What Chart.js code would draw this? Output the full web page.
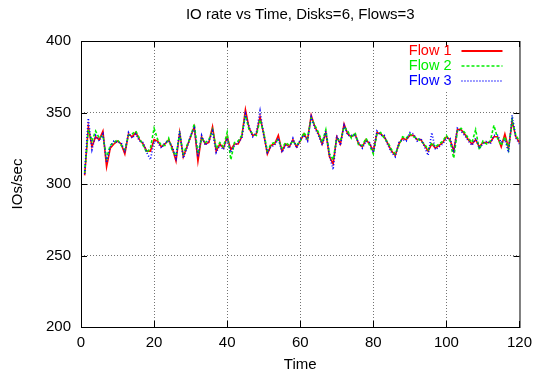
<!DOCTYPE html>
<html>
<head>
<meta charset="utf-8">
<script src="https://cdn.jsdelivr.net/npm/chart.js@4/dist/chart.umd.min.js"></script>
<style>
  html, body { margin: 0; padding: 0; background: #fff; }
  #wrap { width: 539px; height: 374px; }
</style>
</head>
<body>
<div id="wrap"><canvas id="myChart" width="539" height="374"></canvas></div>
<script>
const times = [1,2,3,4,5,6,7,8,9,10,11,12,13,14,15,16,17,18,19,20,
  21,22,23,24,25,26,27,28,29,30,31,32,33,34,35,36,37,38,39,40,
  41,42,43,44,45,46,47,48,49,50,51,52,53,54,55,56,57,58,59,60,
  61,62,63,64,65,66,67,68,69,70,71,72,73,74,75,76,77,78,79,80,
  81,82,83,84,85,86,87,88,89,90,91,92,93,94,95,96,97,98,99,100,
  101,102,103,104,105,106,107,108,109,110,111,112,113,114,115,116,117,118,119,120];

const flow1 = [306,340,326,333,331,337,312,325,328,330,328,321,335,333,336,331,328,323,323,331,
  330,326,328,331,325,316,336,319,326,333,340,316,333,328,329,340,323,328,325,333,
  324,328,328,333,352,339,334,335,347,335,321,327,328,334,323,328,326,331,326,330,
  335,331,348,340,335,328,336,319,314,333,328,342,335,333,335,328,326,331,328,323,
  336,335,333,328,323,320,328,332,331,334,334,331,331,327,323,328,325,327,329,333,
  331,323,338,338,335,331,328,331,326,329,329,329,333,333,326,335,325,344,333,329];

const flow2 = [308,338,330,337,332,334,318,327,329,331,327,324,334,335,337,332,327,322,325,339,
  331,327,327,332,323,320,335,321,327,333,342,321,332,329,331,338,325,329,326,336,
  317,329,330,334,348,338,335,334,345,336,323,328,329,331,325,329,327,330,327,330,
  336,332,346,341,336,329,338,321,317,332,330,340,337,332,336,327,327,332,327,321,
  335,336,332,329,324,321,327,333,332,335,333,332,330,328,324,329,326,328,330,334,
  330,318,337,339,336,332,329,338,324,330,328,330,341,332,327,333,324,345,334,330];

const flow3 = [307,346,324,334,330,335,315,326,330,329,329,322,336,332,335,330,329,322,317,330,
  329,325,329,330,326,318,337,318,325,334,339,319,334,327,330,337,322,327,324,332,
  322,327,329,332,349,340,333,336,351,334,322,326,327,332,322,327,325,332,325,331,
  334,330,347,339,334,327,337,320,310,334,327,341,334,334,334,329,325,330,329,322,
  337,334,334,327,322,319,329,331,330,336,335,330,332,326,320,336,324,326,328,332,
  332,322,339,337,334,330,327,332,325,328,330,328,334,334,329,331,322,348,332,328];

const seriesNames = ['Flow 1', 'Flow 2', 'Flow 3'];
const seriesColors = ['#ff0000', '#00ee00', '#0000ff'];
const seriesDash = [[], [3, 2], [1, 2]];
const xTicks = [0, 20, 40, 60, 80, 100, 120];
const yTicks = [200, 250, 300, 350, 400];
const titleText = 'IO rate vs Time, Disks=6, Flows=3';

function toPoints(vals) {
  return vals.map((v, i) => ({ x: times[i], y: v }));
}

const FONT = "'Liberation Sans', Arial, sans-serif";

// title over the plot area, frame, inner tick marks and the gnuplot-style key
const framePlugin = {
  id: 'frame',
  beforeDatasetsDraw(chart) {
    // the key area hides the grid behind it
    const c = chart.ctx;
    const a = chart.chartArea;
    c.save();
    c.fillStyle = '#fff';
    c.fillRect(a.right - 122, a.top + 1, 110, 48);
    c.restore();
  },
  afterDraw(chart) {
    const c = chart.ctx;
    const a = chart.chartArea;
    const xs = chart.scales.x, ys = chart.scales.y;
    c.save();

    c.fillStyle = '#000';
    c.font = '15px ' + FONT;
    c.textAlign = 'center';
    c.textBaseline = 'middle';
    c.fillText(titleText, (a.left + a.right) / 2, 15);

    c.strokeStyle = '#000';
    c.lineWidth = 1;
    c.setLineDash([]);
    c.strokeRect(a.left + 0.5, a.top + 0.5, a.right - a.left, a.bottom - a.top);
    c.beginPath();
    xTicks.forEach(t => {
      const px = Math.round(xs.getPixelForValue(t)) + 0.5;
      c.moveTo(px, a.bottom); c.lineTo(px, a.bottom - 6);
      c.moveTo(px, a.top); c.lineTo(px, a.top + 6);
    });
    yTicks.forEach(t => {
      const py = Math.round(ys.getPixelForValue(t)) + 0.5;
      c.moveTo(a.left, py); c.lineTo(a.left + 6, py);
      c.moveTo(a.right, py); c.lineTo(a.right - 6, py);
    });
    c.stroke();

    // key
    c.font = '14.5px ' + FONT;
    c.textAlign = 'right';
    seriesNames.forEach((name, i) => {
      const y = a.top + 9.5 + i * 15;
      c.fillStyle = seriesColors[i];
      c.fillText(name, a.right - 68, y);
      c.strokeStyle = seriesColors[i];
      c.setLineDash(seriesDash[i]);
      c.lineWidth = i === 0 ? 2 : 1.5;
      c.beginPath();
      c.moveTo(a.right - 58, y + 0.5);
      c.lineTo(a.right - 17, y + 0.5);
      c.stroke();
    });
    c.restore();
  }
};

const ctx = document.getElementById('myChart').getContext('2d');

const datasets = [flow1, flow2, flow3].map((vals, i) => ({
  label: seriesNames[i],
  data: toPoints(vals),
  borderColor: seriesColors[i],
  backgroundColor: seriesColors[i],
  borderWidth: 1.6,
  borderDash: seriesDash[i],
  pointRadius: 0,
  tension: 0,
  order: 3 - i
}));

function gridColor(edges) {
  return (context) => edges.includes(context.tick && context.tick.value) ? 'rgba(0,0,0,0)' : 'rgba(0,0,0,0.55)';
}

const myChart = new Chart(ctx, {
  type: 'line',
  data: { datasets: datasets },
  options: {
    responsive: false,
    animation: false,
    layout: { padding: { left: 0, right: 18, top: 41, bottom: 0 } },
    plugins: {
      legend: { display: false },
      tooltip: { enabled: false },
      title: { display: false }
    },
    scales: {
      x: {
        type: 'linear',
        min: 0,
        max: 120,
        afterFit(scale) { scale.height = 47; },
        afterBuildTicks(scale) { scale.ticks = xTicks.map(v => ({ value: v })); },
        ticks: { color: '#000', padding: 7, maxRotation: 0, font: { family: FONT, size: 15 } },
        grid: { color: gridColor([0, 120]), drawTicks: false, tickLength: 0 },
        border: { display: false, dash: [1, 2] },
        title: {
          display: true,
          text: 'Time',
          color: '#000',
          font: { family: FONT, size: 15 },
          padding: { top: 0, bottom: 0 }
        }
      },
      y: {
        min: 200,
        max: 400,
        afterFit(scale) { scale.width = 81; },
        afterBuildTicks(scale) { scale.ticks = yTicks.map(v => ({ value: v })); },
        ticks: { color: '#000', padding: 10, font: { family: FONT, size: 15 } },
        grid: { color: gridColor([200, 400]), drawTicks: false, tickLength: 0 },
        border: { display: false, dash: [1, 2] },
        title: {
          display: true,
          text: 'IOs/sec',
          color: '#000',
          font: { family: FONT, size: 15 },
          padding: { top: 9, bottom: 0 }
        }
      }
    }
  },
  plugins: [framePlugin]
});
</script>
</body>
</html>
